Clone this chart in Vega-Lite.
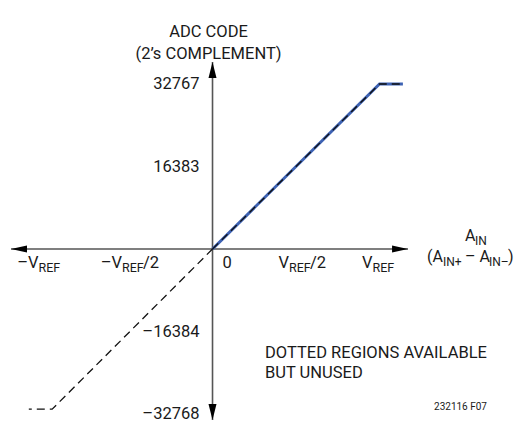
{
  "$schema": "https://vega.github.io/schema/vega-lite/v6.json",
  "width": 531,
  "height": 422,
  "autosize": {"type": "none"},
  "padding": 0,
  "background": "white",
  "data": {"values": [{}]},
  "config": {
    "view": {"stroke": null},
    "axis": {"disable": true},
    "text": {"font": "Roboto", "fontSize": 16.5, "color": "#1a1a1a"}
  },
  "datasets": {
    "curve": [
      {"part": "used", "i": 0, "x": 0, "y": 0},
      {"part": "used", "i": 1, "x": 1.0, "y": 32767},
      {"part": "used", "i": 2, "x": 1.14, "y": 32767},
      {"part": "unused", "i": 0, "x": 0, "y": 0},
      {"part": "unused", "i": 1, "x": -0.96, "y": -31800},
      {"part": "unused", "i": 2, "x": -1.1, "y": -31800}
    ],
    "yticks": [
      {"v": 32767, "label": "32767"},
      {"v": 16383, "label": "16383"},
      {"v": -16384, "label": "–16384"},
      {"v": -32768, "label": "–32768"}
    ],
    "xticks": [
      {"v": -1, "pre": "–V", "post": ""},
      {"v": -0.5, "pre": "–V", "post": "/2"},
      {"v": 0.5, "pre": "V", "post": "/2"},
      {"v": 1, "pre": "V", "post": ""}
    ]
  },
  "layer": [
    {
      "mark": {"type": "rule", "color": "#555555", "strokeWidth": 1.6},
      "encoding": {
        "x": {"datum": -1.2066, "type": "quantitative", "scale": {"domain": [-1.2725, 1.907], "nice": false, "zero": false}},
        "x2": {"datum": 1.1707},
        "y": {"datum": 0, "type": "quantitative", "scale": {"domain": [-34356, 49449], "nice": false, "zero": false}}
      }
    },
    {
      "mark": {"type": "rule", "color": "#555555", "strokeWidth": 1.6},
      "encoding": {
        "x": {"datum": 0, "type": "quantitative"},
        "y": {"datum": -33958, "type": "quantitative"},
        "y2": {"datum": 37136}
      }
    },
    {
      "mark": {"type": "point", "shape": "M0,0L0.5,2L-0.5,2Z", "size": 256, "filled": true, "color": "#000000", "opacity": 1, "strokeWidth": 0},
      "encoding": {"x": {"datum": 0, "type": "quantitative"}, "y": {"datum": 37136, "type": "quantitative"}}
    },
    {
      "mark": {"type": "point", "shape": "M0,0L0.5,-2L-0.5,-2Z", "size": 256, "filled": true, "color": "#000000", "opacity": 1, "strokeWidth": 0},
      "encoding": {"x": {"datum": 0, "type": "quantitative"}, "y": {"datum": -33958, "type": "quantitative"}}
    },
    {
      "mark": {"type": "point", "shape": "M0,0L2,0.45L2,-0.45Z", "size": 256, "filled": true, "color": "#000000", "opacity": 1, "strokeWidth": 0},
      "encoding": {"x": {"datum": -1.2066, "type": "quantitative"}, "y": {"datum": 0, "type": "quantitative"}}
    },
    {
      "mark": {"type": "point", "shape": "M0,0L-2,0.45L-2,-0.45Z", "size": 256, "filled": true, "color": "#000000", "opacity": 1, "strokeWidth": 0},
      "encoding": {"x": {"datum": 1.1707, "type": "quantitative"}, "y": {"datum": 0, "type": "quantitative"}}
    },
    {
      "data": {"name": "curve"},
      "transform": [{"filter": "datum.part == 'used'"}],
      "mark": {"type": "line", "color": "#3d62b3", "strokeWidth": 3},
      "encoding": {
        "x": {"field": "x", "type": "quantitative"},
        "y": {"field": "y", "type": "quantitative"},
        "order": {"field": "i"}
      }
    },
    {
      "data": {"name": "curve"},
      "mark": {"type": "line", "color": "#111111", "strokeWidth": 1.3, "strokeDash": [8, 5]},
      "encoding": {
        "x": {"field": "x", "type": "quantitative"},
        "y": {"field": "y", "type": "quantitative"},
        "detail": {"field": "part"},
        "order": {"field": "i"}
      }
    },
    {
      "data": {"name": "yticks"},
      "mark": {"type": "text", "align": "right", "baseline": "middle", "dx": -13},
      "encoding": {
        "x": {"datum": 0, "type": "quantitative"},
        "y": {"field": "v", "type": "quantitative"},
        "text": {"field": "label"}
      }
    },
    {
      "data": {"name": "xticks"},
      "mark": {"type": "text", "align": "right", "baseline": "alphabetic", "dx": -7, "dy": 19},
      "encoding": {
        "x": {"field": "v", "type": "quantitative"},
        "y": {"datum": 0, "type": "quantitative"},
        "text": {"field": "pre"}
      }
    },
    {
      "data": {"name": "xticks"},
      "mark": {"type": "text", "align": "left", "baseline": "alphabetic", "dx": -7, "dy": 23, "fontSize": 12.5},
      "encoding": {
        "x": {"field": "v", "type": "quantitative"},
        "y": {"datum": 0, "type": "quantitative"},
        "text": {"value": "REF"}
      }
    },
    {
      "data": {"name": "xticks"},
      "mark": {"type": "text", "align": "left", "baseline": "alphabetic", "dx": 14, "dy": 19},
      "encoding": {
        "x": {"field": "v", "type": "quantitative"},
        "y": {"datum": 0, "type": "quantitative"},
        "text": {"field": "post"}
      }
    },
    {
      "mark": {"type": "text", "align": "left", "baseline": "alphabetic", "dx": 10, "dy": 19},
      "encoding": {"x": {"datum": 0, "type": "quantitative"}, "y": {"datum": 0, "type": "quantitative"}, "text": {"value": "0"}}
    },
    {
      "mark": {"type": "text", "align": "center", "baseline": "middle", "dx": -4, "dy": -30, "lineHeight": 22},
      "encoding": {"x": {"datum": 0, "type": "quantitative"}, "y": {"datum": 37136, "type": "quantitative"}, "text": {"value": ["ADC CODE", "(2’s COMPLEMENT)"]}}
    },
    {
      "mark": {"type": "text", "align": "left", "baseline": "alphabetic", "dx": 57, "dy": -8, "fontSize": 16},
      "encoding": {"x": {"datum": 1.1707, "type": "quantitative"}, "y": {"datum": 0, "type": "quantitative"}, "text": {"value": "A"}}
    },
    {
      "mark": {"type": "text", "align": "left", "baseline": "alphabetic", "dx": 67, "dy": -4.5, "fontSize": 12},
      "encoding": {"x": {"datum": 1.1707, "type": "quantitative"}, "y": {"datum": 0, "type": "quantitative"}, "text": {"value": "IN"}}
    },
    {
      "mark": {"type": "text", "align": "left", "baseline": "alphabetic", "dx": 19, "dy": 13, "fontSize": 16},
      "encoding": {"x": {"datum": 1.1707, "type": "quantitative"}, "y": {"datum": 0, "type": "quantitative"}, "text": {"value": "(A"}}
    },
    {
      "mark": {"type": "text", "align": "left", "baseline": "alphabetic", "dx": 35, "dy": 16.5, "fontSize": 12},
      "encoding": {"x": {"datum": 1.1707, "type": "quantitative"}, "y": {"datum": 0, "type": "quantitative"}, "text": {"value": "IN+"}}
    },
    {
      "mark": {"type": "text", "align": "left", "baseline": "alphabetic", "dx": 57, "dy": 13, "fontSize": 16},
      "encoding": {"x": {"datum": 1.1707, "type": "quantitative"}, "y": {"datum": 0, "type": "quantitative"}, "text": {"value": "– A"}}
    },
    {
      "mark": {"type": "text", "align": "left", "baseline": "alphabetic", "dx": 81, "dy": 16.5, "fontSize": 12},
      "encoding": {"x": {"datum": 1.1707, "type": "quantitative"}, "y": {"datum": 0, "type": "quantitative"}, "text": {"value": "IN–"}}
    },
    {
      "mark": {"type": "text", "align": "left", "baseline": "alphabetic", "dx": 100, "dy": 13, "fontSize": 16},
      "encoding": {"x": {"datum": 1.1707, "type": "quantitative"}, "y": {"datum": 0, "type": "quantitative"}, "text": {"value": ")"}}
    },
    {
      "mark": {"type": "text", "align": "left", "baseline": "middle", "dx": 52.5, "dy": 21.5, "lineHeight": 20},
      "encoding": {"x": {"datum": 0, "type": "quantitative"}, "y": {"datum": -16384, "type": "quantitative"}, "text": {"value": ["DOTTED REGIONS AVAILABLE", "BUT UNUSED"]}}
    },
    {
      "mark": {"type": "text", "align": "left", "baseline": "middle", "dx": 54.5, "dy": -7, "fontSize": 10},
      "encoding": {"x": {"datum": 1, "type": "quantitative"}, "y": {"datum": -32768, "type": "quantitative"}, "text": {"value": "232116 F07"}}
    }
  ]
}
